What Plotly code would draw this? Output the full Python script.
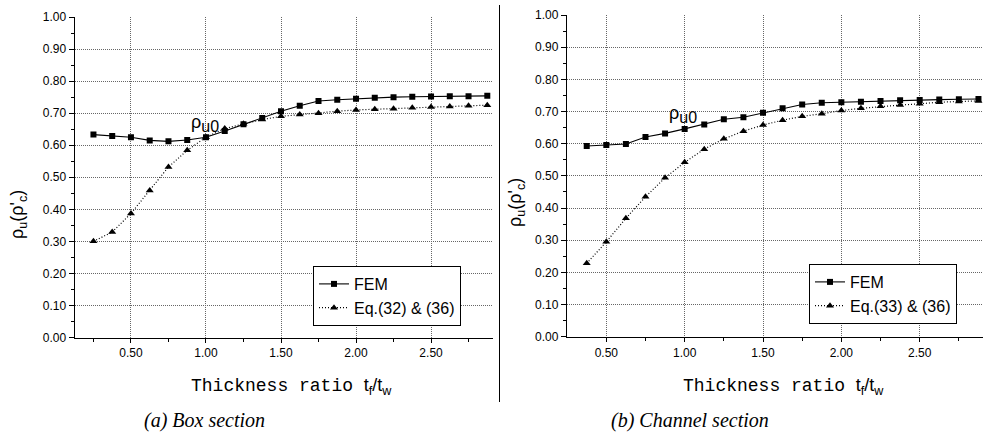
import plotly.graph_objects as go

# ---------------- data ----------------
x_box = [0.25, 0.375, 0.5, 0.625, 0.75, 0.875, 1.0, 1.125, 1.25, 1.375, 1.5, 1.625,
         1.75, 1.875, 2.0, 2.125, 2.25, 2.375, 2.5, 2.625, 2.75, 2.875]
fem_box = [0.633, 0.629, 0.625, 0.615, 0.612, 0.616, 0.625, 0.644, 0.665, 0.685, 0.706,
           0.723, 0.738, 0.742, 0.745, 0.748, 0.750, 0.751, 0.752, 0.753, 0.753, 0.754]
eq_box = [0.300, 0.329, 0.387, 0.459, 0.532, 0.584, 0.625, 0.652, 0.667, 0.680, 0.690,
          0.696, 0.700, 0.706, 0.710, 0.712, 0.714, 0.717, 0.719, 0.721, 0.723, 0.725]

x_channel = [0.375, 0.5, 0.625, 0.75, 0.875, 1.0, 1.125, 1.25, 1.375, 1.5, 1.625,
             1.75, 1.875, 2.0, 2.125, 2.25, 2.375, 2.5, 2.625, 2.75, 2.875]
fem_channel = [0.593, 0.596, 0.599, 0.621, 0.632, 0.646, 0.660, 0.676, 0.682, 0.696, 0.710,
               0.722, 0.727, 0.729, 0.730, 0.733, 0.735, 0.736, 0.737, 0.738, 0.739]
eq_channel = [0.228, 0.295, 0.368, 0.435, 0.494, 0.542, 0.583, 0.615, 0.639, 0.658, 0.673,
              0.685, 0.693, 0.703, 0.710, 0.716, 0.720, 0.724, 0.729, 0.731, 0.733]

fem_name = "FEM"
eq_box_name = "Eq.(32) & (36)"
eq_channel_name = "Eq.(33) & (36)"
y_ticks = [0.0, 0.1, 0.2, 0.3, 0.4, 0.5, 0.6, 0.7, 0.8, 0.9, 1.0]
x_ticks = [0.5, 1.0, 1.5, 2.0, 2.5]

W, H = 984, 433

def px(x):
    return x / W

def py(y):
    return 1 - y / H

fig = go.Figure()

line_fem = dict(color="black", width=1.1)
line_eq = dict(color="black", width=1.2, dash="1px,2px")
m_sq = dict(symbol="square", size=6, color="black")
m_tri = dict(symbol="triangle-up", size=7, color="black")

fig.add_trace(go.Scatter(x=x_box, y=fem_box, mode="lines+markers", name=fem_name,
                         line=line_fem, marker=m_sq, xaxis="x", yaxis="y", legend="legend"))
fig.add_trace(go.Scatter(x=x_box, y=eq_box, mode="lines+markers", name=eq_box_name,
                         line=line_eq, marker=m_tri, xaxis="x", yaxis="y", legend="legend"))
fig.add_trace(go.Scatter(x=x_channel, y=fem_channel, mode="lines+markers", name=fem_name,
                         line=line_fem, marker=m_sq, xaxis="x2", yaxis="y2", legend="legend2"))
fig.add_trace(go.Scatter(x=x_channel, y=eq_channel, mode="lines+markers", name=eq_channel_name,
                         line=line_eq, marker=m_tri, xaxis="x2", yaxis="y2", legend="legend2"))

tickfont = dict(family="Arial, Liberation Sans", size=12, color="black")
grid = dict(showgrid=True, gridcolor="#666", griddash="1px,1px", gridwidth=1)

def xaxis(domain, rng, anchor):
    return dict(domain=domain, range=rng, anchor=anchor, automargin=False,
                tickvals=x_ticks, tickformat=".2f", tickfont=tickfont,
                showline=True, linecolor="black", linewidth=1.5,
                ticks="outside", ticklen=4, tickcolor="black", tickwidth=1,
                minor=dict(dtick=0.25, tick0=0, ticks="outside", ticklen=3,
                           tickcolor="black", showgrid=False),
                zeroline=False, fixedrange=True, **grid)

def yaxis(domain, anchor):
    return dict(domain=domain, range=[0, 1.0], anchor=anchor, automargin=False,
                tickvals=y_ticks, tickformat=".2f", tickfont=tickfont,
                showline=True, linecolor="black", linewidth=1.5,
                ticks="outside", ticklen=5, tickcolor="black", tickwidth=1,
                minor=dict(dtick=0.05, tick0=0, ticks="outside", ticklen=3,
                           tickcolor="black", showgrid=False),
                zeroline=False, fixedrange=True, **grid)

legfont = dict(family="Arial, Liberation Sans", size=16, color="black")

fig.update_layout(
    width=W, height=H,
    margin=dict(l=0, r=0, t=0, b=0, autoexpand=False),
    paper_bgcolor="white", plot_bgcolor="white",
    xaxis=xaxis([px(75), px(493)], [0.127, 2.913], "y"),
    yaxis=yaxis([py(337.5), py(17)], "x"),
    xaxis2=xaxis([px(567.3), px(983)], [0.251, 2.904], "y2"),
    yaxis2=yaxis([py(336.7), py(15)], "x2"),
    legend=dict(x=px(313), y=py(266), xanchor="left", yanchor="top",
                bgcolor="white", bordercolor="black", borderwidth=1,
                font=legfont, itemwidth=30, tracegroupgap=0),
    legend2=dict(x=px(809), y=py(264), xanchor="left", yanchor="top",
                 bgcolor="white", bordercolor="black", borderwidth=1,
                 font=legfont, itemwidth=30, tracegroupgap=0),
    showlegend=True,
    hovermode=False,
)

ann_font = dict(family="Arial, Liberation Sans", size=18, color="black")
title_x = ("<span style='font-family:Liberation Mono'>Thickness ratio </span>"
           "<span style='font-family:Arial'>t<sub>f</sub>/t<sub>w</sub></span>")
ytitle = "ρ<sub>u</sub>(ρ'<sub>c</sub>)"
cap_font = dict(family="Liberation Serif", size=20, color="black")
rho0 = "ρ<sub><span style='font-size:16px'>u0</span></sub>"

anns = [
    # rho_u0 labels
    dict(x=px(205), y=py(124), text=rho0),
    dict(x=px(683), y=py(115), text=rho0),
    # x-axis titles
    dict(x=px(291), y=py(386), text=title_x, font=dict(size=18, color="black")),
    dict(x=px(783), y=py(386), text=title_x, font=dict(size=18, color="black")),
    # y-axis titles
    dict(x=px(18), y=py(215), text=ytitle, textangle=-90),
    dict(x=px(517), y=py(203), text=ytitle, textangle=-90),
    # captions
    dict(x=px(204), y=py(420), text="<i>(a) Box section</i>", font=cap_font),
    dict(x=px(690), y=py(420), text="<i>(b) Channel section</i>", font=cap_font),
]
for a in anns:
    d = dict(xref="paper", yref="paper", showarrow=False, xanchor="center",
             yanchor="middle", font=ann_font)
    d.update(a)
    fig.add_annotation(**d)

# separator line between panels
fig.add_shape(type="line", xref="paper", yref="paper",
              x0=px(499.5), x1=px(499.5), y0=py(402), y1=py(5),
              line=dict(color="black", width=1))

fig.write_html("out.html",
               config={"displayModeBar": False, "staticPlot": True},
               post_script="document.body.style.margin='0px';"
                           "document.body.style.overflow='hidden';")
